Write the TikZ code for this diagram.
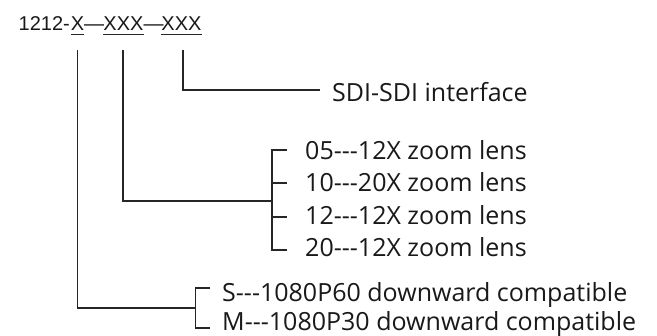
\documentclass[tikz,border=0pt]{standalone}
\usepackage{fontspec}
\setmainfont{Open Sans}
\newfontfamily\titlefont{Liberation Sans}
\newcommand\tridash{-\kern0pt-\kern0pt-}
\begin{document}
\begin{tikzpicture}[x=1pt,y=-1pt,
  conn/.style={line width=1.4pt, draw=black!85},
  ttl/.style={inner sep=0pt, font=\titlefont\fontsize{20}{20}\selectfont, text=black!90},
  lbl/.style={inner sep=0pt, anchor=base west, font=\fontsize{25}{25}\selectfont, text=black!90},
  uline/.style={line width=0.9pt, draw=black!85}]
\useasboundingbox[fill=white] (0,0) rectangle (657,336);
% title
\node[ttl, anchor=base east] (t0) at (70,31) {1212-};
\node[ttl, anchor=base] (tx) at (77.5,31) {X};
\node[ttl, anchor=base] (d1) at (94,31) {—};
\node[ttl, anchor=base] (ta) at (123.5,31) {XXX};
\node[ttl, anchor=base] (d2) at (153.5,31) {—};
\node[ttl, anchor=base] (tb) at (181.5,31) {XXX};
\draw[uline] ([yshift=-3pt]tx.base west) -- ([yshift=-3pt]tx.base east);
\draw[uline] ([yshift=-3pt]ta.base west) -- ([yshift=-3pt]ta.base east);
\draw[uline] ([yshift=-3pt]tb.base west) -- ([yshift=-3pt]tb.base east);
% labels
\node[lbl] (sdi) at (332,101.5) {SDI-SDI interface};
\node[lbl] (z1) at (305,160) {05\tridash12X zoom lens};
\node[lbl] (z2) at (305,191.5) {10\tridash20X zoom lens};
\node[lbl] (z3) at (305,225) {12\tridash12X zoom lens};
\node[lbl] (z4) at (305,256.5) {20\tridash12X zoom lens};
\node[lbl] (s1) at (222,301.5) {S\tridash1080P60 downward compatible};
\node[lbl] (m1) at (222,330.5) {M\tridash1080P30 downward compatible};
% coordinates
\coordinate (v1) at (77.5,50);
\coordinate (v2) at (123,50);
\coordinate (v3) at (183,50);
\coordinate (e3) at (320,90);
\coordinate (b2) at (272,201);
\coordinate (b1) at (195.5,308);
% connectors
\draw[conn] (v3) |- (e3);
\draw[conn] (v2) |- (b2);
\draw[conn] (v1) |- (b1);
% zoom bracket
\draw[conn] (287,150) -| (272,250) -- (287,250);
\draw[conn] (272,183) -- (287,183);
\draw[conn] (272,217) -- (287,217);
% S/M bracket
\draw[conn] (210,288) -| (195.5,328) -- (210,328);
\end{tikzpicture}
\end{document}
